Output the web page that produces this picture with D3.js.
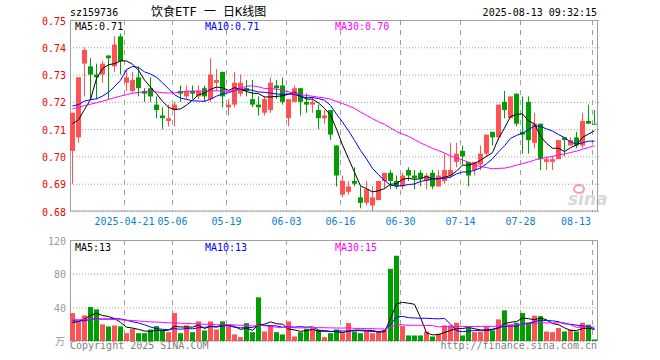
<!DOCTYPE html>
<html>
<head>
<meta charset="utf-8">
<script src="https://cdn.jsdelivr.net/npm/d3@7"></script>
<style>
body{margin:0;background:#fff;}
text{font-family:"DejaVu Sans Mono",monospace;font-size:10px;}
</style>
</head>
<body>
<script>
const dates = ['2025-04-08','2025-04-09','2025-04-10','2025-04-11','2025-04-14','2025-04-15','2025-04-16','2025-04-17','2025-04-18','2025-04-21',
  '2025-04-22','2025-04-23','2025-04-24','2025-04-25','2025-04-28','2025-04-29','2025-04-30','2025-05-06','2025-05-07','2025-05-08',
  '2025-05-09','2025-05-12','2025-05-13','2025-05-14','2025-05-15','2025-05-16','2025-05-19','2025-05-20','2025-05-21','2025-05-22',
  '2025-05-23','2025-05-26','2025-05-27','2025-05-28','2025-05-29','2025-05-30','2025-06-03','2025-06-04','2025-06-05','2025-06-06',
  '2025-06-09','2025-06-10','2025-06-11','2025-06-12','2025-06-13','2025-06-16','2025-06-17','2025-06-18','2025-06-19','2025-06-20',
  '2025-06-23','2025-06-24','2025-06-25','2025-06-26','2025-06-27','2025-06-30','2025-07-01','2025-07-02','2025-07-03','2025-07-04',
  '2025-07-07','2025-07-08','2025-07-09','2025-07-10','2025-07-11','2025-07-14','2025-07-15','2025-07-16','2025-07-17','2025-07-18',
  '2025-07-21','2025-07-22','2025-07-23','2025-07-24','2025-07-25','2025-07-28','2025-07-29','2025-07-30','2025-07-31','2025-08-01',
  '2025-08-04','2025-08-05','2025-08-06','2025-08-07','2025-08-08','2025-08-11','2025-08-12','2025-08-13'];

const open = [0.702,0.707,0.734,0.733,0.730,0.730,0.737,0.733,0.744,0.727,
  0.724,0.729,0.724,0.725,0.719,0.715,0.713,0.717,0.724,0.722,
  0.724,0.722,0.725,0.721,0.727,0.731,0.718,0.719,0.723,0.725,
  0.721,0.719,0.716,0.717,0.726,0.726,0.714,0.720,0.725,0.720,
  0.719,0.717,0.714,0.717,0.704,0.686,0.687,0.691,0.685,0.683,
  0.682,0.684,0.691,0.694,0.691,0.689,0.695,0.693,0.694,0.691,
  0.694,0.689,0.691,0.693,0.698,0.702,0.698,0.695,0.697,0.701,
  0.709,0.707,0.720,0.714,0.723,0.709,0.720,0.705,0.712,0.698,
  0.698,0.699,0.707,0.704,0.707,0.704,0.713,0.712];
const high = [0.716,0.729,0.740,0.736,0.734,0.735,0.737,0.744,0.745,0.732,
  0.731,0.733,0.725,0.729,0.722,0.718,0.719,0.720,0.726,0.726,
  0.726,0.726,0.726,0.736,0.732,0.731,0.721,0.731,0.730,0.728,
  0.728,0.722,0.722,0.729,0.728,0.729,0.721,0.726,0.725,0.723,
  0.722,0.719,0.717,0.717,0.704,0.693,0.691,0.696,0.689,0.691,
  0.689,0.691,0.694,0.695,0.693,0.694,0.696,0.695,0.695,0.694,
  0.695,0.695,0.701,0.705,0.705,0.704,0.698,0.698,0.704,0.708,
  0.709,0.719,0.724,0.722,0.723,0.722,0.722,0.716,0.712,0.700,
  0.700,0.706,0.707,0.707,0.709,0.716,0.719,0.717];
const low = [0.690,0.705,0.722,0.721,0.721,0.727,0.721,0.731,0.730,0.724,
  0.723,0.722,0.720,0.720,0.714,0.710,0.711,0.711,0.720,0.721,
  0.721,0.721,0.720,0.720,0.724,0.718,0.715,0.718,0.722,0.722,
  0.718,0.715,0.715,0.716,0.721,0.719,0.711,0.720,0.715,0.716,
  0.716,0.710,0.712,0.706,0.689,0.685,0.686,0.689,0.681,0.682,
  0.680,0.684,0.688,0.688,0.688,0.688,0.691,0.688,0.689,0.688,
  0.688,0.689,0.690,0.692,0.696,0.697,0.689,0.693,0.695,0.700,
  0.704,0.706,0.714,0.714,0.711,0.701,0.701,0.703,0.695,0.695,
  0.695,0.699,0.700,0.704,0.703,0.703,0.712,0.712];
const close = [0.716,0.729,0.739,0.730,0.729,0.734,0.736,0.741,0.735,0.729,
  0.728,0.725,0.723,0.722,0.717,0.714,0.714,0.719,0.723,0.724,
  0.723,0.724,0.722,0.730,0.728,0.722,0.719,0.727,0.727,0.724,
  0.719,0.718,0.721,0.727,0.725,0.720,0.721,0.725,0.720,0.719,
  0.720,0.714,0.715,0.708,0.693,0.691,0.689,0.690,0.683,0.688,
  0.685,0.691,0.694,0.691,0.689,0.693,0.693,0.692,0.692,0.693,
  0.689,0.693,0.695,0.695,0.701,0.700,0.693,0.698,0.701,0.708,
  0.707,0.719,0.717,0.722,0.712,0.708,0.706,0.712,0.699,0.699,
  0.699,0.706,0.706,0.706,0.704,0.713,0.712,0.712];
// volume in 万
const volume = [33.2,23.3,30.4,40.4,37.6,19.7,17.3,18.5,17.3,9.3,
  14.5,9.3,9.3,13.7,17.7,12.5,10.5,33.2,9.3,18.5,
  10.5,23.3,12.5,23.3,13.7,23.3,19.3,7.8,4.6,21.2,
  10.5,51.9,11.3,18.5,10.5,7.8,23.3,5.4,10.5,14.5,
  15.2,13.0,4.6,9.3,13.7,9.3,21.3,11.3,9.3,11.7,
  9.3,11.3,13.3,85.8,101.3,17.7,6.6,6.6,6.6,11.3,
  5.4,8.6,18.5,18.5,21.7,6.6,15.5,10.5,11.3,17.3,
  12.5,25.7,36.4,19.3,21.7,33.2,22.1,30.1,29.6,11.3,
  10.5,15.5,11.3,13.7,11.3,21.7,19.3,1.8];
// closes / volumes of the 29 sessions before the window (for the moving averages)
const prevClose = [0.716,0.718,0.715,0.713,0.716,0.719,0.720,0.718,0.714,0.712,
  0.715,0.717,0.719,0.721,0.722,0.718,0.716,0.715,0.717,0.719,
  0.724,0.726,0.725,0.726,0.724,0.722,0.720,0.712,0.690];
const prevVol = [24,26,28,25,23,27,29,26,24,25,27,28,26,25,24,27,29,26,24,26,
  26,27,25,28,25.5,15,17,18,25.3];
// volume MA values as printed in the legend
const volLegend = [13, 13, 15];

const priceTicks = [0.68,0.69,0.70,0.71,0.72,0.73,0.74,0.75];
const volTicks = [0,40,80,120];
const dateTicks = ['2025-04-21','2025-05-06','2025-05-19','2025-06-03','2025-06-16','2025-06-30','2025-07-14','2025-07-28','2025-08-13'];

const RED = '#ff5353', GREEN = '#009e00', GRID = '#a0a0a0', BLUE_TXT = '#0a7fd0';
const L = 70, R = 598;

const svg = d3.select('body').append('svg').attr('width',660).attr('height',360);

const x = d3.scaleBand().domain(dates).range([L, R]);
const y = d3.scaleLinear().domain([0.68, 0.75]).range([211, 20]);
const yv = d3.scaleLinear().domain([0, 120]).range([341, 240]);

function ma(series, prev, n){
  const full = prev.concat(series);
  return series.map((_, i) => d3.mean(full.slice(i + prev.length - n + 1, i + prev.length + 1)));
}
const isUp = i => close[i] > open[i] || (close[i] === open[i] && close[i] > (i ? close[i-1] : prevClose[prevClose.length-1]));
const idx = d3.range(dates.length);

// header
svg.append('text').attr('x',70).attr('y',16).text('sz159736').style('fill','#000');
svg.append('text').attr('x',151).attr('y',16).text('饮食ETF 一 日K线图')
   .style('font-family','"DejaVu Sans Mono","Noto Sans CJK SC",monospace').style('font-size','12px');
svg.append('text').attr('x',597).attr('y',16).attr('text-anchor','end').text('2025-08-13 09:32:15');

// price grid + labels
const gy = svg.append('g').attr('transform',`translate(${L},0)`)
  .call(d3.axisLeft(y).tickValues(priceTicks).tickSize(-(R - L)).tickFormat(d3.format('.2f')));
gy.select('.domain').remove();
gy.selectAll('line').style('stroke',GRID).style('stroke-dasharray','1,2').attr('x2', R - L + 1);
gy.selectAll('text').attr('x',-4).attr('dy','0.4em').style('fill','#e00').style('font-size','10px')
  .style('font-family','"DejaVu Sans Mono",monospace');

// volume grid + labels
const gv = svg.append('g').attr('transform',`translate(${L},0)`)
  .call(d3.axisLeft(yv).tickValues(volTicks).tickSize(-(R - L)).tickFormat(d => d === 0 ? '' : d));
gv.select('.domain').remove();
gv.selectAll('line').style('stroke',GRID).style('stroke-dasharray','1,2');
gv.selectAll('text').attr('x',-4).attr('dy','0.4em').style('fill','#999').style('font-size','10px')
  .style('font-family','"DejaVu Sans Mono",monospace');
svg.append('text').attr('x',65).attr('y',345).attr('text-anchor','end').text('万')
   .style('fill','#999').style('font-family','"Noto Sans CJK SC",sans-serif').style('font-size','10px');

// vertical dashed grid
[[20,211],[240,341]].forEach(([t,b]) => {
  svg.append('g').selectAll('line').data(dateTicks).join('line')
    .attr('x1', d => x(d) + 0.5).attr('x2', d => x(d) + 0.5).attr('y1', t).attr('y2', b)
    .style('stroke', GRID).style('stroke-dasharray','5,5');
});

// date labels
svg.append('g').selectAll('text').data(dateTicks).join('text')
  .attr('x', (d,i) => i === dateTicks.length - 1 ? x(d) - 1 : x(d) + 0.5)
  .attr('y', 225)
  .attr('text-anchor', (d,i) => i === dateTicks.length - 1 ? 'end' : 'middle')
  .text((d,i) => i === 0 ? d : d.slice(5))
  .style('fill', BLUE_TXT);

// watermark
svg.append('text').attr('x',568).attr('y',205).text('sina')
   .style('font-family','"DejaVu Sans",sans-serif').style('font-size','17px').style('font-weight','bold')
   .style('font-style','italic').style('fill','#d8d8d8');
svg.append('ellipse').attr('cx',579).attr('cy',189).attr('rx',5).attr('ry',4)
   .style('fill','none').style('stroke','#f0a0a0').style('stroke-width',2);

// frames
svg.append('rect').attr('x',L+0.5).attr('y',20.5).attr('width',R-L-1).attr('height',190.5)
   .style('fill','none').style('stroke',GRID);
svg.append('rect').attr('x',L+0.5).attr('y',240.5).attr('width',R-L-1).attr('height',100)
   .style('fill','none').style('stroke',GRID);

// candles
const candles = svg.append('g');
candles.selectAll('line').data(idx).join('line')
  .attr('x1', i => x(dates[i]) + 2.5).attr('x2', i => x(dates[i]) + 2.5)
  .attr('y1', i => y(high[i])).attr('y2', i => y(low[i]))
  .style('stroke', i => isUp(i) ? RED : GREEN);
candles.selectAll('rect').data(idx).join('rect')
  .attr('x', i => x(dates[i])).attr('width', 5)
  .attr('y', i => y(Math.max(open[i], close[i])))
  .attr('height', i => Math.max(1, Math.abs(y(open[i]) - y(close[i]))))
  .style('fill', i => isUp(i) ? RED : GREEN);

// volume bars
svg.append('g').selectAll('rect').data(idx).join('rect')
  .attr('x', i => x(dates[i])).attr('width', 5)
  .attr('y', i => yv(volume[i])).attr('height', i => yv(0) - yv(volume[i]))
  .style('fill', i => isUp(i) ? RED : GREEN);

// moving averages
const maDefs = [[5,'#000'],[10,'#0000ff'],[30,'#ff00ff']];
const legendX = [75, 205, 335];
maDefs.forEach(([n, col], k) => {
  const pm = ma(close, prevClose, n);
  const vm = ma(volume, prevVol, n);
  const lp = d3.line().x((d,i) => x(dates[i]) + 2.5).y(d => y(d));
  const lv = d3.line().x((d,i) => x(dates[i]) + 2.5).y(d => yv(d));
  svg.append('path').attr('d', lp(pm)).style('fill','none').style('stroke',col);
  svg.append('path').attr('d', lv(vm)).style('fill','none').style('stroke',col);
  svg.append('text').attr('x',legendX[k]).attr('y',30).text(`MA${n}:${pm[pm.length-1].toFixed(2)}`).style('fill',col);
  svg.append('text').attr('x',legendX[k]).attr('y',251).text(`MA${n}:${volLegend[k]}`).style('fill',col);
});

// footer
svg.append('text').attr('x',70).attr('y',349).text('Copyright 2025 SINA.COM').style('fill','#808080');
svg.append('text').attr('x',597).attr('y',349).attr('text-anchor','end').text('http://finance.sina.com.cn').style('fill','#808080');
</script>
</body>
</html>
